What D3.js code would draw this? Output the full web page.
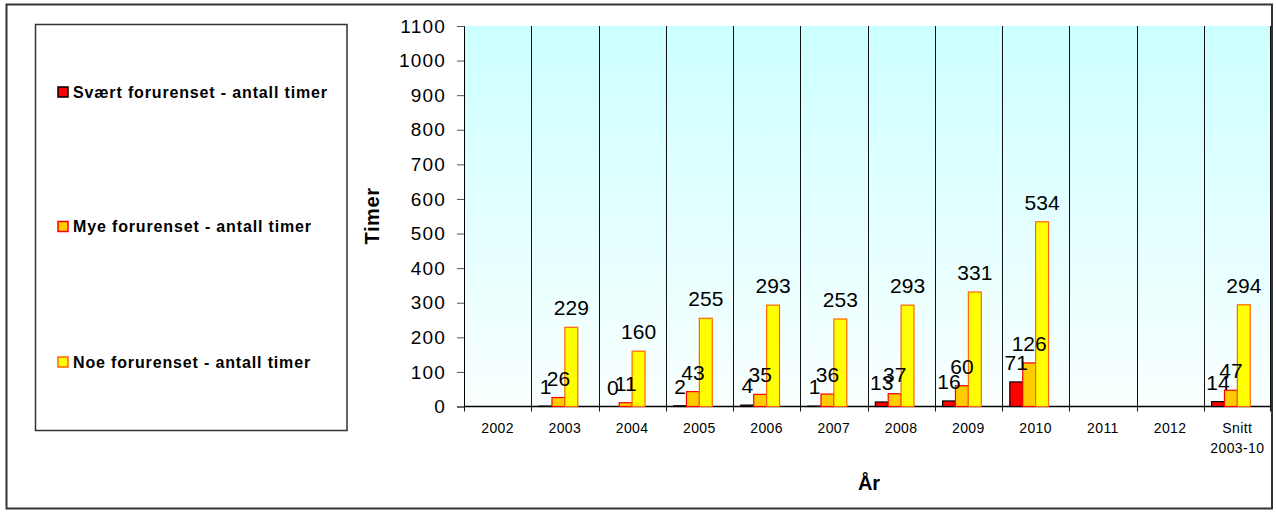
<!DOCTYPE html>
<html>
<head>
<meta charset="utf-8">
<script src="https://cdn.jsdelivr.net/npm/d3@7"></script>
<style>
  html, body { margin: 0; padding: 0; background: #fff; }
  svg { display: block; font-family: Arial, "Liberation Sans", sans-serif; }
</style>
</head>
<body>
<svg id="chart" width="1276" height="513"></svg>
<script>
// Hours per year with polluted air, by pollution level
const categories = ["2002", "2003", "2004", "2005", "2006", "2007", "2008", "2009", "2010", "2011", "2012", "Snitt 2003-10"];
const svaertValues = [null, 1, 0, 2, 4, 1, 13, 16, 71, null, null, 14];
const myeValues    = [null, 26, 11, 43, 35, 36, 37, 60, 126, null, null, 47];
const noeValues    = [null, 229, 160, 255, 293, 253, 293, 331, 534, null, null, 294];
const seriesNames  = ["Svært forurenset - antall timer", "Mye forurenset - antall timer", "Noe forurenset - antall timer"];
const yTicks = [0, 100, 200, 300, 400, 500, 600, 700, 800, 900, 1000, 1100];

const seriesStyle = [
  { fill: "#FF0000", stroke: "#000000" },
  { fill: "#FFCC00", stroke: "#FF0000" },
  { fill: "#FFFF00", stroke: "#FF6600" }
];
const seriesValues = [svaertValues, myeValues, noeValues];

const svg = d3.select("#chart");

// Outer frame
svg.append("rect")
  .attr("x", 6.5).attr("y", 4.5).attr("width", 1265.5).attr("height", 504)
  .attr("fill", "#fff").attr("stroke", "#333").attr("stroke-width", 2);

// Plot area
const plot = { left: 464, right: 1271, top: 26, bottom: 406.5 };

const x = d3.scaleBand().domain(categories).range([plot.left, plot.right]).paddingInner(0).paddingOuter(0);
// four slots per group; the fourth stays empty
const xs = d3.scaleBand().domain([0, 1, 2, 3]).range([0, x.bandwidth() * 0.767]).padding(0);
const groupOffset = (x.bandwidth() - x.bandwidth() * 0.767) / 2;
const y = d3.scaleLinear().domain([0, 1100]).range([plot.bottom, plot.top]);

const defs = svg.append("defs");
const grad = defs.append("linearGradient").attr("id", "bg").attr("x1", 0).attr("y1", 0).attr("x2", 0).attr("y2", 1);
grad.append("stop").attr("offset", "0%").attr("stop-color", "#CCFFFF");
grad.append("stop").attr("offset", "100%").attr("stop-color", "#FAFFFF");

svg.append("rect")
  .attr("x", plot.left).attr("y", plot.top)
  .attr("width", plot.right - plot.left).attr("height", plot.bottom - plot.top)
  .attr("fill", "url(#bg)");

// Vertical separators between categories
const boundaries = categories.slice(1).map(c => x(c));
svg.append("g").selectAll("line").data(boundaries).join("line")
  .attr("x1", d => Math.round(d) + 0.5).attr("x2", d => Math.round(d) + 0.5)
  .attr("y1", plot.top).attr("y2", plot.bottom + 5)
  .attr("stroke", "#111").attr("stroke-width", 1);
svg.append("line")
  .attr("x1", plot.right - 0.5).attr("x2", plot.right - 0.5)
  .attr("y1", plot.top).attr("y2", plot.bottom + 5)
  .attr("stroke", "#111");

// Y axis
const yAxis = d3.axisLeft(y).tickValues(yTicks).tickSize(7).tickPadding(11).tickFormat(d3.format("d"));
const gy = svg.append("g").attr("transform", `translate(${plot.left},0)`).call(yAxis);
gy.select(".domain").attr("stroke", "#000");
gy.selectAll(".tick line").attr("stroke", "#555");
gy.selectAll(".tick text")
  .attr("font-size", 19).attr("letter-spacing", 1.2).attr("fill", "#000")
  .attr("font-family", "Arial, 'Liberation Sans', sans-serif");

// X axis baseline and labels
svg.append("line")
  .attr("x1", plot.left).attr("x2", plot.right)
  .attr("y1", plot.bottom).attr("y2", plot.bottom)
  .attr("stroke", "#000").attr("stroke-width", 1.5);
svg.append("line")
  .attr("x1", plot.left + 0.5).attr("x2", plot.left + 0.5)
  .attr("y1", plot.bottom).attr("y2", plot.bottom + 5)
  .attr("stroke", "#111");

const xl = svg.append("g").selectAll("text").data(categories).join("text")
  .attr("x", d => x(d) + x.bandwidth() / 2)
  .attr("y", 432.5)
  .attr("text-anchor", "middle")
  .attr("font-size", 14).attr("letter-spacing", 0.4).attr("fill", "#000");
xl.each(function(d) {
  const parts = d.split(" ");
  const t = d3.select(this);
  parts.forEach((p, i) => {
    t.append("tspan").attr("x", x(d) + x.bandwidth() / 2).attr("dy", i === 0 ? 0 : 20).text(p);
  });
});

// Bars first, then every value label on top of them
const barLayer = svg.append("g");
const labelLayer = svg.append("g");
seriesValues.forEach((vals, si) => {
  const data = categories.map((c, i) => ({ c, v: vals[i] })).filter(d => d.v !== null);
  barLayer.append("g").selectAll("rect").data(data).join("rect")
    .attr("x", d => x(d.c) + groupOffset + xs(si))
    .attr("y", d => y(d.v))
    .attr("width", xs.bandwidth())
    .attr("height", d => plot.bottom - y(d.v))
    .attr("fill", seriesStyle[si].fill)
    .attr("stroke", seriesStyle[si].stroke)
    .attr("stroke-width", 1.2);
  labelLayer.append("g").selectAll("text").data(data).join("text")
    .attr("x", d => x(d.c) + groupOffset + xs(si) + xs.bandwidth() / 2)
    .attr("y", d => y(d.v) - 12)
    .attr("text-anchor", "middle")
    .attr("font-size", 21).attr("fill", "#000")
    .text(d => d.v);
});

// Axis titles
svg.append("text")
  .attr("transform", "translate(379,216) rotate(-90)")
  .attr("text-anchor", "middle")
  .attr("font-size", 20).attr("font-weight", "bold").attr("letter-spacing", 0.6)
  .text("Timer");
svg.append("text")
  .attr("x", 869).attr("y", 490)
  .attr("text-anchor", "middle")
  .attr("font-size", 20).attr("font-weight", "bold")
  .text("År");

// Legend
svg.append("rect")
  .attr("x", 35.5).attr("y", 24.5).attr("width", 311.5).attr("height", 406)
  .attr("fill", "#fff").attr("stroke", "#333").attr("stroke-width", 1.5);
const legendY = [92, 226.5, 362];
const lg = svg.append("g").selectAll("g").data(seriesNames).join("g")
  .attr("transform", (d, i) => `translate(0,${legendY[i]})`);
lg.append("rect")
  .attr("x", 58).attr("y", -5).attr("width", 10).attr("height", 10)
  .attr("fill", (d, i) => seriesStyle[i].fill)
  .attr("stroke", (d, i) => seriesStyle[i].stroke)
  .attr("stroke-width", 1.5);
lg.append("text")
  .attr("x", 73).attr("y", 5.5)
  .attr("font-size", 16).attr("font-weight", "bold").attr("letter-spacing", 0.85)
  .attr("fill", "#000")
  .text(d => d);
</script>
</body>
</html>
